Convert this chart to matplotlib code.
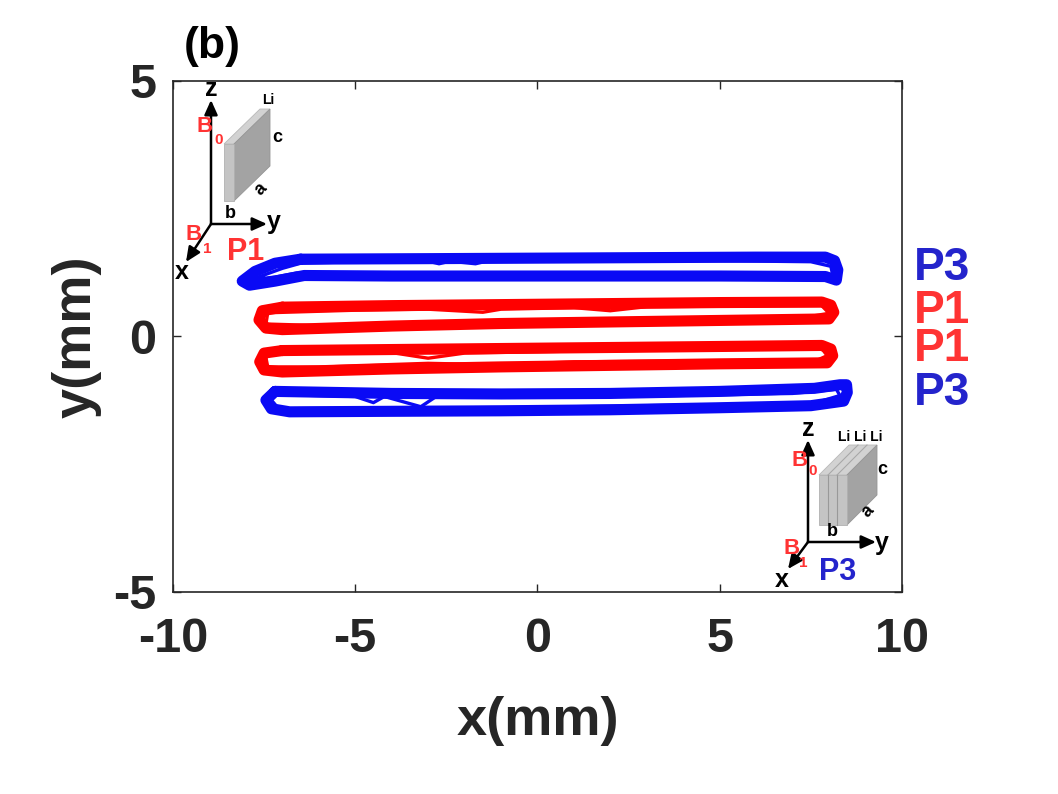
import numpy as np
import matplotlib.pyplot as plt
from matplotlib.patches import Polygon, FancyArrowPatch

plt.rcParams['font.family'] = ['Liberation Sans', 'DejaVu Sans']
plt.rcParams['axes.unicode_minus'] = False

# ---- trajectory data (mm) ----
# upper P3 loop (blue)
p3_up_x = [-6.5, -3, 0, 3, 6, 7.9, 8.15, 8.24, 8.2, 7.9, 5, 2, -1, -4, -6.4, -7.2, -7.9, -8.1, -7.75, -7.2, -6.5]
p3_up_y = [1.51, 1.52, 1.53, 1.54, 1.55, 1.55, 1.48, 1.3, 1.1, 1.17, 1.18, 1.18, 1.18, 1.18, 1.19, 1.08, 1.0, 1.08, 1.27, 1.43, 1.51]
p3_up_in_x = [-7.9, -7.5, -7.0, -6.5, -5, -3, -2.7, -2.4, -1.7, -1.4, 1, 5, 7.5, 8.05, 8.1, 7.6, 3, -2, -6.6, -7.2, -7.9]
p3_up_in_y = [1.1, 1.2, 1.33, 1.43, 1.46, 1.47, 1.42, 1.47, 1.42, 1.47, 1.48, 1.48, 1.46, 1.37, 1.2, 1.23, 1.23, 1.23, 1.24, 1.16, 1.1]

# upper P1 loop (red)
p1_up_x = [-7.0, -4, -1, 2, 5, 7.8, 8.05, 8.13, 8.0, 5, 2, -1, -4, -7, -7.45, -7.64, -7.55, -7.0]
p1_up_y = [0.57, 0.6, 0.62, 0.64, 0.66, 0.67, 0.61, 0.47, 0.34, 0.31, 0.28, 0.25, 0.2, 0.13, 0.16, 0.32, 0.5, 0.57]
p1_up_in_x = [-7.45, -7.4, -5, -3, -1.5, -1, 1, 2, 3, 7.8, 8.0, 7.5, 3, 0, -3, -6, -7.45]
p1_up_in_y = [0.24, 0.46, 0.51, 0.53, 0.47, 0.53, 0.56, 0.5, 0.58, 0.6, 0.45, 0.39, 0.35, 0.32, 0.27, 0.21, 0.24]

# lower P1 loop (red)
p1_lo_x = [-7.0, -4, -1, 2, 5, 7.8, 8.05, 8.1, 7.95, 5, 2, -1, -4, -7, -7.5, -7.62, -7.5, -7.0]
p1_lo_y = [-0.28, -0.26, -0.24, -0.22, -0.2, -0.18, -0.25, -0.38, -0.52, -0.54, -0.57, -0.6, -0.64, -0.7, -0.66, -0.5, -0.33, -0.28]
p1_lo_in_x = [-7.4, -4, -3, -2, 1, 5, 7.8, 7.95, 7.7, 5, 1, -1, -3, -6, -7.4, -7.45, -7.4]
p1_lo_in_y = [-0.34, -0.32, -0.43, -0.33, -0.29, -0.26, -0.24, -0.38, -0.46, -0.48, -0.5, -0.56, -0.53, -0.6, -0.6, -0.42, -0.34]

# lower P3 loop (blue)
p3_lo_x = [-7.2, -4, -1, 2, 5, 7.6, 8.3, 8.48, 8.5, 8.4, 7.5, 5, 2, -1, -4, -6.8, -7.3, -7.45, -7.2]
p3_lo_y = [-1.08, -1.12, -1.13, -1.12, -1.08, -1.02, -0.95, -0.95, -1.1, -1.27, -1.36, -1.4, -1.44, -1.46, -1.47, -1.48, -1.42, -1.25, -1.08]
p3_lo_in_x = [-7.2, -5, -4.5, -4.2, -3.2, -2.8, 0, 3, 7, 8.2, 8.3, 7.6, 4, 0, -4, -7.1, -7.3, -7.2]
p3_lo_in_y = [-1.14, -1.18, -1.3, -1.18, -1.38, -1.19, -1.19, -1.17, -1.12, -1.04, -1.16, -1.31, -1.35, -1.39, -1.41, -1.42, -1.25, -1.14]

x_ticks = [-10, -5, 0, 5, 10]
y_ticks = [-5, 0, 5]

side_labels = ['P3', 'P1', 'P1', 'P3']
side_label_y = [1.33, 0.5, -0.24, -1.12]

blue = '#0a0af5'
red = '#ff0000'
lab_blue = '#2424cc'
lab_red = '#ff3333'
dark = '#262626'

fig = plt.figure(figsize=(10.58, 7.94), dpi=100)
ax = fig.add_axes([0.1635, 0.255, 0.689, 0.643])

loops = [
    (p3_up_x, p3_up_y, p3_up_in_x, p3_up_in_y, blue),
    (p1_up_x, p1_up_y, p1_up_in_x, p1_up_in_y, red),
    (p1_lo_x, p1_lo_y, p1_lo_in_x, p1_lo_in_y, red),
    (p3_lo_x, p3_lo_y, p3_lo_in_x, p3_lo_in_y, blue),
]
for ox, oy, ix, iy, c in loops:
    ax.plot(ox, oy, color=c, lw=8, solid_joinstyle='round', solid_capstyle='round')
    ax.plot(ix, iy, color=c, lw=2.4, solid_joinstyle='round')

ax.set_xlim(-10, 10)
ax.set_ylim(-5, 5)
ax.set_xticks(x_ticks)
ax.set_yticks(y_ticks)
ax.tick_params(direction='in', length=6, width=1, colors=dark, top=True, right=True,
               labelsize=35)
ax.tick_params(axis='x', pad=18)
ax.tick_params(axis='y', pad=12)
for lbl in ax.get_xticklabels() + ax.get_yticklabels():
    lbl.set_fontweight('bold')
for s in ax.spines.values():
    s.set_color(dark)
    s.set_linewidth(1.2)

ax.set_xlabel('x(mm)', fontsize=39, fontweight='bold', color=dark)
ax.set_ylabel('y(mm)', fontsize=39, fontweight='bold', color=dark)
ax.xaxis.label.set_va('center')
ax.xaxis.set_label_coords(0.5, -0.253)
ax.yaxis.label.set_va('center')
ax.yaxis.set_label_coords(-0.132, 0.5)

for t, yv in zip(side_labels, side_label_y):
    ax.text(11.1, yv, t, fontsize=33, fontweight='bold',
            color=lab_blue if t == 'P3' else lab_red,
            ha='center', va='center', clip_on=False)

fig.text(0.201, 0.941, '(b)', fontsize=32, fontweight='bold', ha='center', va='center')

# ---- crystal sketches, drawn in pixel coordinates on an overlay ----
ov = fig.add_axes([0, 0, 1, 1], zorder=5)
ov.set_xlim(0, 1058)
ov.set_ylim(794, 0)
ov.axis('off')


def arrow(p0, p1):
    ov.add_patch(FancyArrowPatch(p0, p1, arrowstyle='-|>,head_length=4,head_width=1.8',
                                 mutation_scale=2.2, lw=1.8, color='black',
                                 shrinkA=0, shrinkB=0))


def sketch(origin, z_tip, y_tip, x_tip, front, dx, dy, slices, b0, b1, tag, tag_color,
           lbl_z, lbl_y, lbl_x, li_pos, li_text, c_pos, a_pos, b_pos):
    for tip in (z_tip, y_tip, x_tip):
        arrow(origin, tip)
    x0, y0, x1, y1 = front
    top = [(x0, y0), (x1, y0), (x1 + dx, y0 + dy), (x0 + dx, y0 + dy)]
    side = [(x1, y0), (x1 + dx, y0 + dy), (x1 + dx, y1 + dy), (x1, y1)]
    ov.add_patch(Polygon(top, closed=True, fc='#d2d2d2', ec='#b8b8b8', lw=0.6))
    ov.add_patch(Polygon(side, closed=True, fc='#a3a3a3', ec='#959595', lw=0.6))
    ov.add_patch(Polygon([(x0, y0), (x1, y0), (x1, y1), (x0, y1)], closed=True,
                         fc='#c4c4c4', ec='#b0b0b0', lw=0.6))
    for sx in slices:
        ov.plot([sx, sx], [y0, y1], color='#999999', lw=0.8)
        ov.plot([sx, sx + dx], [y0, y0 + dy], color='#a8a8a8', lw=0.8)
    ov.text(*lbl_z, 'z', fontsize=18, fontweight='bold', ha='center', va='center')
    ov.text(*lbl_y, 'y', fontsize=18, fontweight='bold', ha='center', va='center')
    ov.text(*lbl_x, 'x', fontsize=18, fontweight='bold', ha='center', va='center')
    ov.text(*b0[0], 'B', fontsize=16, fontweight='bold', color=lab_red, ha='center', va='center')
    ov.text(*b0[1], '0', fontsize=11, fontweight='bold', color=lab_red, ha='center', va='center')
    ov.text(*b1[0], 'B', fontsize=16, fontweight='bold', color=lab_red, ha='center', va='center')
    ov.text(*b1[1], '1', fontsize=11, fontweight='bold', color=lab_red, ha='center', va='center')
    ov.text(*tag, tag_color[0], fontsize=22, fontweight='bold', color=tag_color[1],
            ha='center', va='center')
    ov.text(*li_pos, li_text, fontsize=10, fontweight='bold', ha='center', va='center')
    ov.text(*c_pos, 'c', fontsize=13, fontweight='bold', ha='center', va='center')
    ov.text(*a_pos, 'a', fontsize=13, fontweight='bold', ha='center', va='center', rotation=45)
    ov.text(*b_pos, 'b', fontsize=13, fontweight='bold', ha='center', va='center')


sketch(origin=(211, 224), z_tip=(211, 100), y_tip=(267, 224), x_tip=(186, 262),
       front=(224, 144, 234, 201), dx=36, dy=-35, slices=[],
       b0=((205, 126), (219, 140)), b1=((194, 234), (207, 249)),
       tag=(246, 252), tag_color=('P1', lab_red),
       lbl_z=(211, 89), lbl_y=(274, 222), lbl_x=(182, 272),
       li_pos=(268, 100), li_text='Li', c_pos=(277, 138), a_pos=(261, 189), b_pos=(230, 213))

sketch(origin=(808, 542), z_tip=(808, 440), y_tip=(876, 542), x_tip=(788, 569),
       front=(819, 475, 847, 525), dx=30, dy=-30, slices=[828, 837],
       b0=((800, 460), (813, 471)), b1=((792, 548), (803, 563)),
       tag=(838, 572), tag_color=('P3', lab_blue),
       lbl_z=(808, 429), lbl_y=(882, 543), lbl_x=(782, 580),
       li_pos=(860, 437), li_text='Li Li Li', c_pos=(882, 469), a_pos=(868, 511), b_pos=(832, 532))

fig.savefig('out.png', dpi=100)
